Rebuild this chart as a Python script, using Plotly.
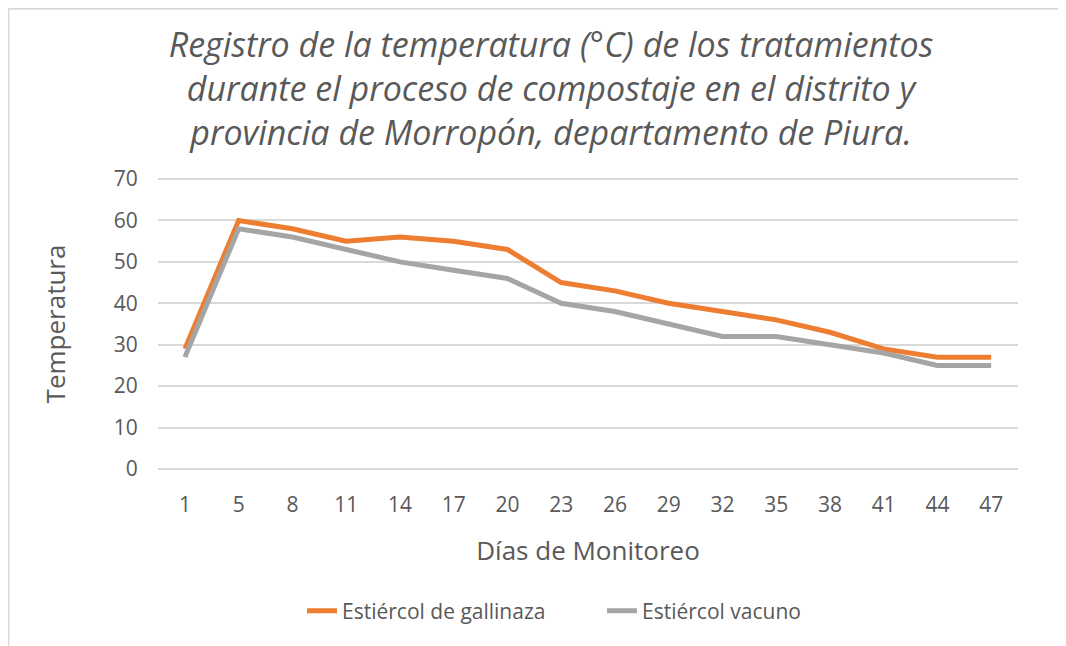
import plotly.graph_objects as go

dias = ["1", "5", "8", "11", "14", "17", "20", "23", "26", "29", "32", "35", "38", "41", "44", "47"]
gallinaza = [29, 60, 58, 55, 56, 55, 53, 45, 43, 40, 38, 36, 33, 29, 27, 27]
vacuno = [27, 58, 56, 53, 50, 48, 46, 40, 38, 35, 32, 32, 30, 28, 25, 25]
y_ticks = [0, 10, 20, 30, 40, 50, 60, 70]

# page is offset by the default 8px body margin
W, H = 1058, 638
pu = 290 / 70.0               # pixels per degree
L, R = 150, 48
T = 171 - 0.5 * pu
B = H - (461 + 0.5 * pu)
PW, PH = W - L - R, H - T - B
TXT = "#595959"

def px(fx):
    return (fx - L) / PW

def py(fy):
    return (H - B - fy) / PH

fig = go.Figure()
fig.add_trace(go.Scatter(x=dias, y=gallinaza, mode="lines", name="Estiércol de gallinaza",
                         line=dict(color="#ED7D31", width=5)))
fig.add_trace(go.Scatter(x=dias, y=vacuno, mode="lines", name="Estiércol vacuno",
                         line=dict(color="#A5A5A5", width=5)))

fig.update_layout(
    width=W, height=H,
    margin=dict(l=L, r=R, t=T, b=B, autoexpand=False),
    paper_bgcolor="white", plot_bgcolor="white",
    font=dict(family="Open Sans, sans-serif", color=TXT, size=16),
    title=dict(
        text="<i>Registro de la temperatura (°C) de los tratamientos<br>"
             "durante el proceso de compostaje en el distrito y<br>"
             "provincia de Morropón, departamento de Piura.</i>",
        x=543 / W, xanchor="center", xref="container",
        y=1 - 49 / H, yanchor="middle", yref="container",
        font=dict(size=34, color=TXT, family="Open Sans, sans-serif"),
    ),
    xaxis=dict(
        type="category", range=[-0.5, 15.5],
        showgrid=False, zeroline=False, showline=False,
        ticks="outside", ticklen=15, tickcolor="rgba(0,0,0,0)",
        tickfont=dict(size=21, color=TXT),
        title=dict(text="Días de Monitoreo", font=dict(size=26, color=TXT), standoff=24),
    ),
    yaxis=dict(
        range=[-0.5, 70.5], tickvals=y_ticks, showgrid=True, gridcolor="#D9D9D9", gridwidth=1.5,
        zeroline=False, showline=False,
        ticks="outside", ticklen=15, tickcolor="rgba(0,0,0,0)",
        tickfont=dict(size=21, color=TXT),
        title=dict(text="Temperatura", font=dict(size=26, color=TXT), standoff=40),
    ),
    legend=dict(orientation="h", xref="container", yref="container",
                x=294 / W, xanchor="left", y=1 - 603 / H, yanchor="middle",
                font=dict(size=21, color=TXT), entrywidth=255),
    showlegend=True,
)
# light outer frame (top and left edges)
fig.add_shape(type="line", xref="paper", yref="paper",
              x0=px(0), x1=px(W), y0=py(0), y1=py(0),
              line=dict(color="#D9D9D9", width=3), layer="below")
fig.add_shape(type="line", xref="paper", yref="paper",
              x0=px(0), x1=px(0), y0=py(0), y1=py(H),
              line=dict(color="#D9D9D9", width=3), layer="below")

fig.write_html("out.html")
